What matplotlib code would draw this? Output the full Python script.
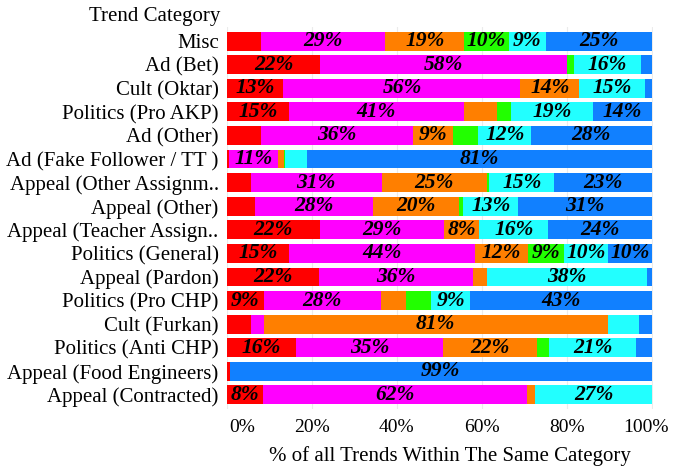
import matplotlib
matplotlib.use("Agg")
import matplotlib.pyplot as plt
import matplotlib.transforms as mtransforms
import numpy as np

categories = ["Misc", "Ad (Bet)", "Cult (Oktar)", "Politics (Pro AKP)", "Ad (Other)",
              "Ad (Fake Follower / TT )", "Appeal (Other Assignm..", "Appeal (Other)",
              "Appeal (Teacher Assign..", "Politics (General)", "Appeal (Pardon)",
              "Politics (Pro CHP)", "Cult (Furkan)", "Politics (Anti CHP)",
              "Appeal (Food Engineers)", "Appeal (Contracted)"]

red     = [7.9, 22.0, 13.3, 14.7, 7.9, 0.5, 5.6, 6.5, 21.8, 14.6, 21.6, 8.6, 5.6, 16.2, 0.6, 8.4]
magenta = [29.3, 58.0, 55.8, 41.0, 35.9, 11.4, 30.8, 27.8, 29.3, 43.8, 36.4, 27.7, 3.1, 34.7, 0.0, 62.2]
orange  = [18.7, 0.0, 13.8, 7.8, 9.4, 1.5, 24.7, 20.3, 8.3, 12.4, 3.2, 5.9, 80.9, 22.0, 0.0, 2.0]
green   = [10.4, 1.8, 0.0, 3.4, 6.0, 0.2, 0.7, 1.0, 0.0, 8.6, 0.0, 5.9, 0.0, 2.9, 0.0, 0.0]
cyan    = [8.7, 15.6, 15.4, 19.2, 12.4, 5.3, 15.3, 13.0, 16.2, 10.4, 37.6, 9.2, 7.5, 20.6, 0.0, 27.4]
blue    = [25.0, 2.6, 1.7, 13.9, 28.4, 81.1, 22.9, 31.4, 24.4, 10.2, 1.2, 42.7, 2.9, 3.6, 99.4, 0.0]

series = [red, magenta, orange, green, cyan, blue]
colors = ["#FF0000", "#FF00FF", "#FF7F00", "#22FF00", "#22FFFF", "#1180FF"]
xticks = [0, 20, 40, 60, 80, 100]
xticklabels = ["0%", "20%", "40%", "60%", "80%", "100%"]

serif = ["Liberation Serif", "DejaVu Serif"]
plt.rcParams["font.family"] = serif

fig = plt.figure(figsize=(6.86, 4.71), dpi=100)
ax = fig.add_axes([227/686, 1 - 409/471, (653 - 227)/686, (409 - 27)/471])

n = len(categories)
y = np.arange(n)[::-1]
left = np.zeros(n)
for vals, col in zip(series, colors):
    vals = np.array(vals)
    ax.barh(y, vals, left=left, height=0.8, color=col, edgecolor="none", zorder=2)
    for yi, l, v in zip(y, left, vals):
        if v >= 8:
            ax.text(l + v / 2, yi, f"{v:.0f}%", ha="center", va="center",
                    fontsize=15.5, fontweight="bold", fontstyle="italic",
                    color="black", zorder=3)
    left += vals

ax.set_xlim(0, 100.3)
ax.set_ylim(-0.6, n - 0.4)
ax.set_yticks(y)
ax.set_yticklabels(categories, fontsize=15)
ax.set_xticks(xticks)
ax.set_xticklabels(xticklabels, fontsize=14)
ax.tick_params(axis="both", length=0, pad=6)
ax.tick_params(axis="x", pad=7)
for s in ax.spines.values():
    s.set_visible(False)
ax.grid(axis="x", color="#EBEBEB", linewidth=0.8, zorder=0)
ax.set_axisbelow(True)

lbls = ax.get_xticklabels()
lbls[0].set_transform(lbls[0].get_transform() + mtransforms.ScaledTranslation(15/100, 0, fig.dpi_scale_trans))
lbls[-1].set_transform(lbls[-1].get_transform() + mtransforms.ScaledTranslation(-6/100, 0, fig.dpi_scale_trans))

fig.text(450/686, 1 - 456/471, "% of all Trends Within The Same Category",
         ha="center", va="center", fontsize=15)
fig.text(220/686, 1 - 17/471, "Trend Category", ha="right", va="center", fontsize=15)

fig.savefig("out.png", dpi=100)
